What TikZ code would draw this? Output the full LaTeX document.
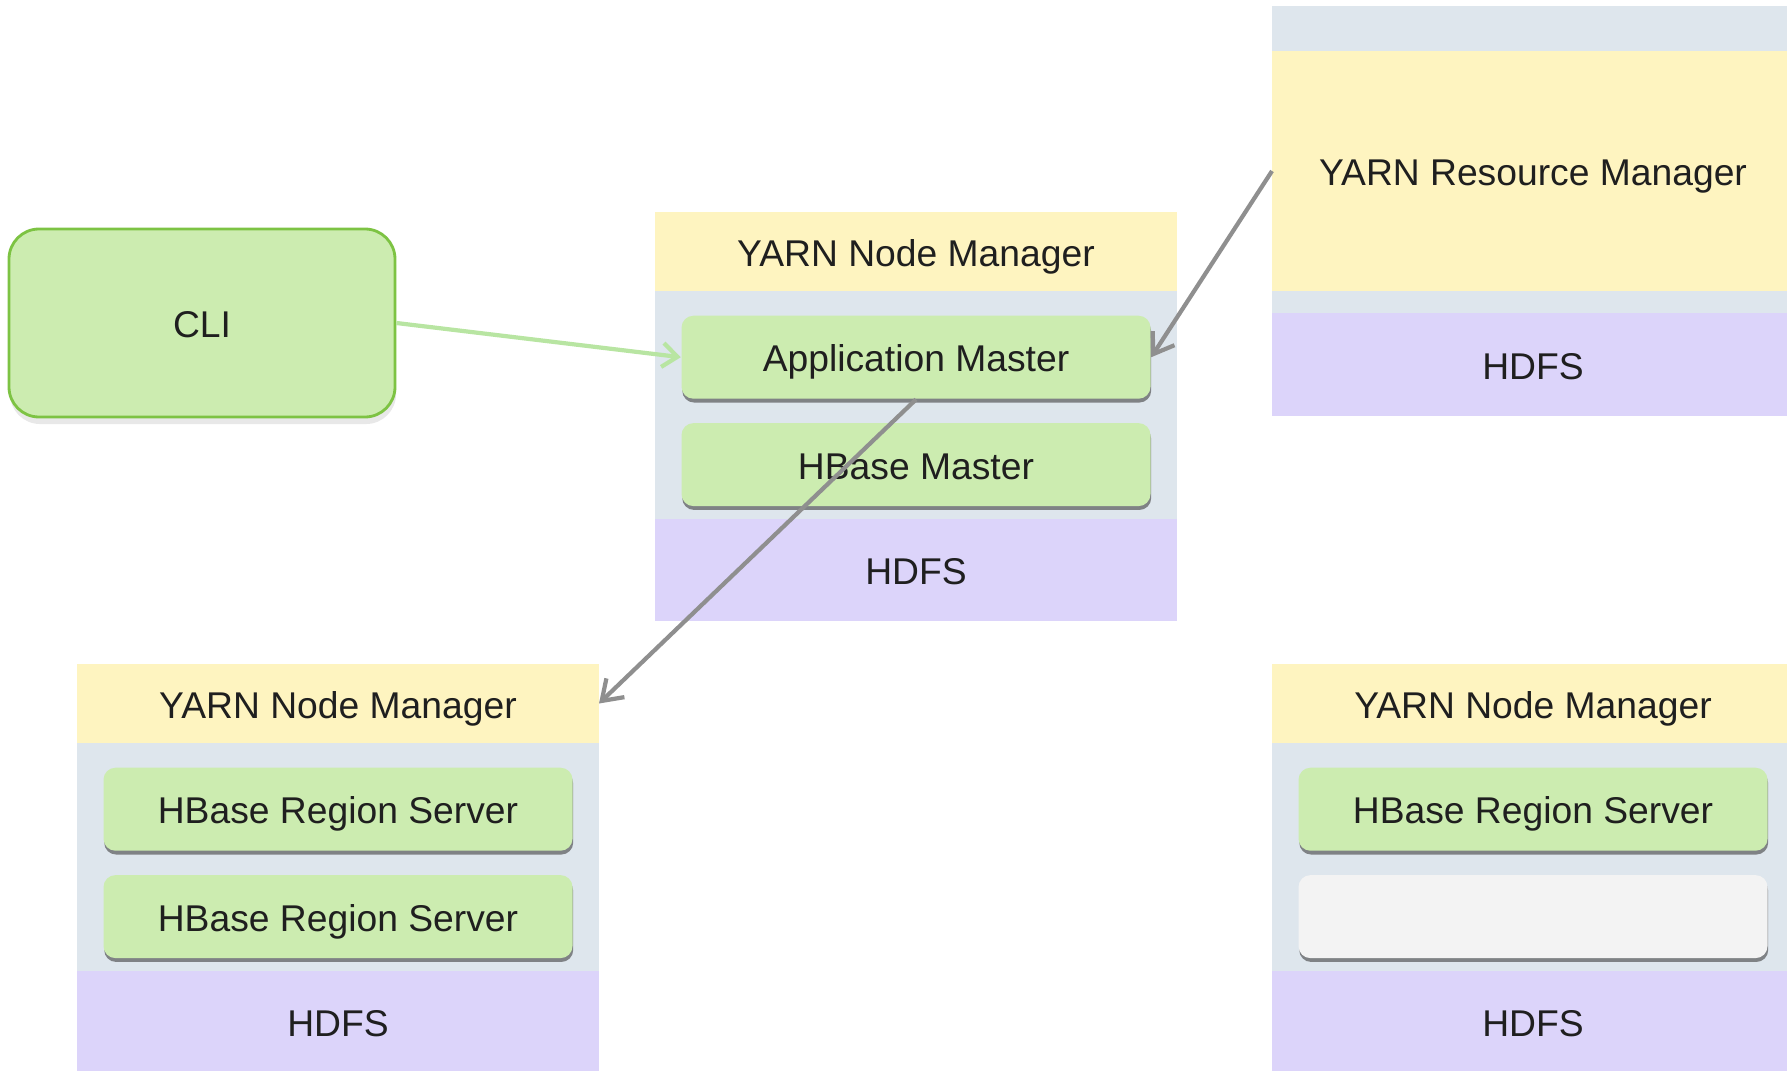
\documentclass[tikz,border=0pt]{standalone}
\usepackage{fontspec}
\setmainfont{Liberation Sans}
\usepackage{xcolor}
\usetikzlibrary{arrows.meta,positioning,shadows}

\definecolor{nmyellow}{HTML}{FEF4C0}
\definecolor{hostgray}{HTML}{DEE6ED}
\definecolor{hdfspurple}{HTML}{DCD4FA}
\definecolor{svcgreen}{HTML}{CCECB0}
\definecolor{cligreen}{HTML}{7DC343}
\definecolor{idlegray}{HTML}{F3F3F3}
\definecolor{linkgray}{HTML}{8F8F8F}
\definecolor{linkgreen}{HTML}{B8E5A2}

\begin{document}
\begin{tikzpicture}[->,>={Straight Barb[length=1.9mm,width=2.6mm]},
  font=\fontsize{10.6}{12.7}\selectfont,text=black!88,
  layer/.style={rectangle,inner sep=0pt,outer sep=0pt,minimum width=5.22cm,
    text height=8.3pt,text depth=0pt},
  yarn/.style={layer,fill=nmyellow,minimum height=7.9mm},
  host/.style={layer,fill=hostgray,minimum height=22.8mm,text height=0pt},
  hdfs/.style={layer,fill=hdfspurple,minimum height=10.2mm},
  svc/.style={rectangle,rounded corners=1.2mm,fill=svcgreen,inner sep=0pt,
    minimum width=4.69cm,minimum height=8.3mm,text height=8.3pt,text depth=0pt,
    drop shadow={shadow xshift=0.2pt,shadow yshift=-1.1pt,opacity=0.6,fill=black!75}},
  idle/.style={svc,fill=idlegray},
  client/.style={rectangle,rounded corners=3mm,draw=cligreen,line width=0.8pt,
    fill=svcgreen,minimum width=3.86cm,minimum height=1.88cm,
    text height=8.3pt,text depth=0pt,
    drop shadow={shadow xshift=0.3pt,shadow yshift=-2pt,opacity=0.18}},
  feed/.style={linkgreen,line width=1.2pt,-{Straight Barb[length=1.5mm,width=2.4mm]}},
  ctl/.style={linkgray,line width=1.2pt}]

  \useasboundingbox (0,0) rectangle (17.87,10.70);

  % resource manager
  \node[host,minimum height=4.5mm,anchor=north] (RMtop) at (15.33,10.64) {};
  \node[yarn,minimum height=24mm] (RM) [below=0pt of RMtop] {YARN Resource Manager};
  \node[host,minimum height=2.2mm] (RMgap) [below=0pt of RM] {};
  \node[hdfs,minimum height=10.3mm] (RMfs) [below=0pt of RMgap] {HDFS};

  % node running the AM
  \node[yarn,anchor=north] (NMam) at (9.16,8.58) {YARN Node Manager};
  \node[host] (HOSTam) [below=0pt of NMam] {};
  \node[hdfs] (FSam) [below=0pt of HOSTam] {HDFS};
  \node[svc] (AM) [below=2.4mm of NMam] {Application Master};
  \node[svc] (HM) [below=2.3mm of AM] {HBase Master};

  % worker nodes
  \node[yarn,anchor=north] (NMa) at (3.38,4.06) {YARN Node Manager};
  \node[host] (HOSTa) [below=0pt of NMa] {};
  \node[hdfs] (FSa) [below=0pt of HOSTa] {HDFS};
  \node[svc] (RSa1) [below=2.4mm of NMa] {HBase Region Server};
  \node[svc] (RSa2) [below=2.3mm of RSa1] {HBase Region Server};

  \node[yarn,anchor=north] (NMb) at (15.33,4.06) {YARN Node Manager};
  \node[host] (HOSTb) [below=0pt of NMb] {};
  \node[hdfs] (FSb) [below=0pt of HOSTb] {HDFS};
  \node[svc] (RSb1) [below=2.4mm of NMb] {HBase Region Server};
  \node[idle,text height=0pt] (FREEb) [below=2.3mm of RSb1] {};

  \node[client] (CLI) at (2.02,7.47) {CLI};

  \path (CLI.east) edge [feed] (AM.west);

  \path
  (RM.west) edge [ctl] (AM.east)
  (AM.south) edge [ctl] (NMa.east)
  ;
\end{tikzpicture}
\end{document}
